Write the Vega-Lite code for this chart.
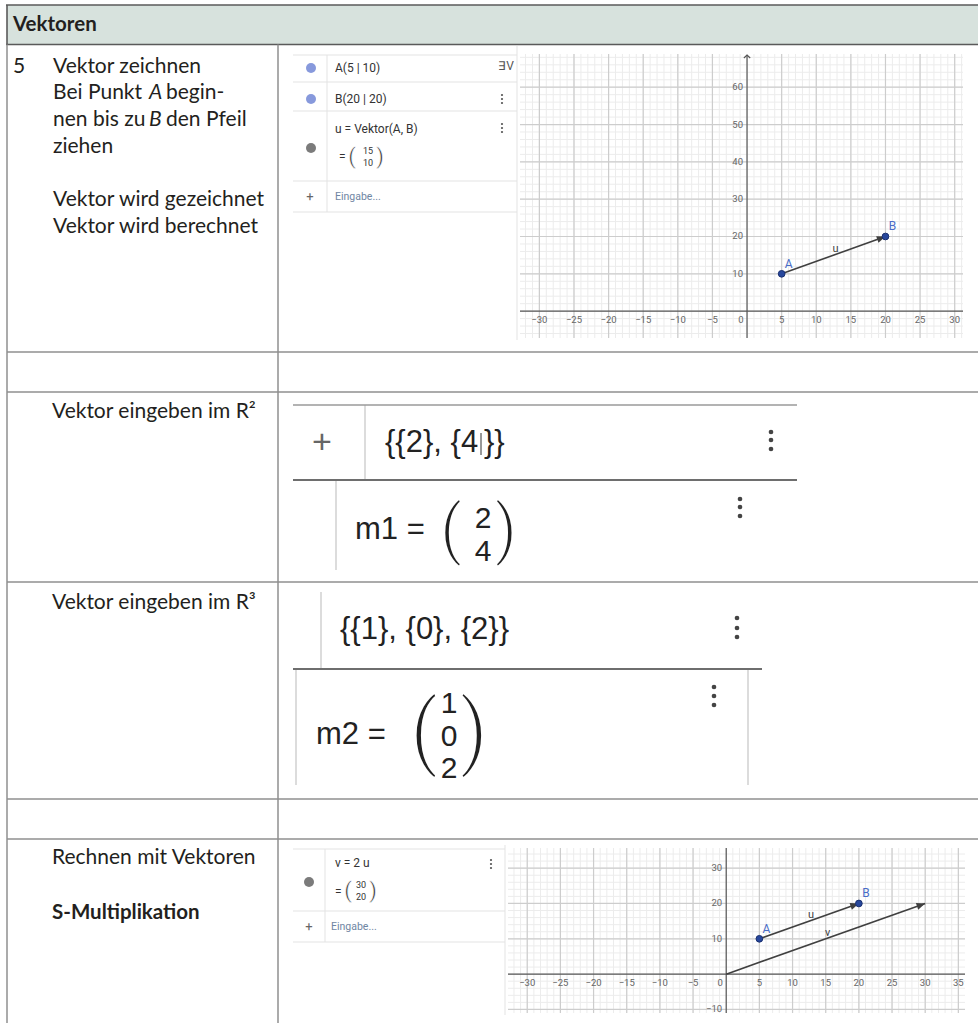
{
"$schema":"https://vega.github.io/schema/vega-lite/v6.json",
"width":978,"height":1023,"padding":0,"autosize":"none","background":"#ffffff",
"config":{"view":{"stroke":null}},
"resolve":{"scale":{"x":"independent","y":"independent"}},
"datasets":{
"hdr":[{"x":7,"y":5,"x2":978,"y2":44.5}],
"hdrLines":[{"x":6,"y":5,"x2":978,"y2":5},{"x":6,"y":44.5,"x2":978,"y2":44.5},{"x":7,"y":5,"x2":7,"y2":44.5}],
"tblLines":[{"x":7,"y":352,"x2":978,"y2":352},{"x":7,"y":392,"x2":978,"y2":392},{"x":7,"y":582,"x2":978,"y2":582},{"x":7,"y":799,"x2":978,"y2":799},{"x":7,"y":839,"x2":978,"y2":839},{"x":7,"y":44.5,"x2":7,"y2":1023},{"x":278,"y":44.5,"x2":278,"y2":1023}],
"ggThin":[{"x":293,"y":55,"x2":517,"y2":55},{"x":293,"y":82,"x2":517,"y2":82},{"x":293,"y":111,"x2":517,"y2":111},{"x":293,"y":181,"x2":517,"y2":181},{"x":293,"y":212,"x2":517,"y2":212},{"x":327,"y":55,"x2":327,"y2":212},{"x":517,"y":46,"x2":517,"y2":340},{"x":293,"y":849,"x2":505,"y2":849},{"x":293,"y":911,"x2":505,"y2":911},{"x":293,"y":942,"x2":505,"y2":942},{"x":325,"y":849,"x2":325,"y2":942},{"x":505,"y":845,"x2":505,"y2":1015}],
"ggBox":[{"x":365,"y":405,"x2":365,"y2":480},{"x":336,"y":481,"x2":336,"y2":570},{"x":321,"y":592,"x2":321,"y2":669},{"x":296,"y":670,"x2":296,"y2":785},{"x":748,"y":670,"x2":748,"y2":785}],
"ggLineMid":[{"x":293,"y":405,"x2":797,"y2":405}],
"ggLineDark":[{"x":293,"y":480,"x2":797,"y2":480},{"x":293,"y":669,"x2":762,"y2":669}],
"cursor":[{"x":481,"y":433,"x2":481,"y2":455}],
"txtBody":[{"x":13,"y":67,"t":"5"},{"x":53,"y":67,"t":"Vektor zeichnen"},{"x":53,"y":93,"t":"Bei Punkt"},{"x":166,"y":93,"t":"begin-"},{"x":53,"y":120,"t":"nen bis zu"},{"x":166,"y":120,"t":"den Pfeil"},{"x":53,"y":147,"t":"ziehen"},{"x":53,"y":200,"t":"Vektor wird gezeichnet"},{"x":53,"y":227,"t":"Vektor wird berechnet"},{"x":52,"y":412,"t":"Vektor eingeben im R²"},{"x":52,"y":603,"t":"Vektor eingeben im R³"},{"x":52,"y":858,"t":"Rechnen mit Vektoren"}],
"txtItalic":[{"x":149,"y":93,"t":"A"},{"x":149,"y":120,"t":"B"}],
"txtBold":[{"x":13,"y":25,"t":"Vektoren"},{"x":52,"y":913,"t":"S-Multiplikation"}],
"ggSm":[{"x":335,"y":68,"t":"A(5 | 10)"},{"x":335,"y":99,"t":"B(20 | 20)"},{"x":335,"y":129,"t":"u = Vektor(A, B)"},{"x":339,"y":157,"t":"="},{"x":335,"y":863,"t":"v = 2 u"},{"x":335,"y":892,"t":"="}],
"ggTiny":[{"x":368,"y":151,"t":"15"},{"x":368,"y":163,"t":"10"},{"x":361,"y":885,"t":"30"},{"x":361,"y":897,"t":"20"}],
"ggParS":[{"x":352,"y":157,"t":"("},{"x":380,"y":157,"t":")"},{"x":348,"y":891,"t":"("},{"x":373,"y":891,"t":")"}],
"ggInp":[{"x":335,"y":197,"t":"Eingabe..."},{"x":331,"y":927,"t":"Eingabe..."}],
"ggPlusS":[{"x":310,"y":197,"t":"+"},{"x":309,"y":927,"t":"+"}],
"ggIcon":[{"x":506,"y":66,"t":"∃V"}],
"ggBig":[{"x":385,"y":443,"t":"{{2}, {4"},{"x":484,"y":443,"t":"}}"},{"x":340,"y":630,"t":"{{1}, {0}, {2}}"},{"x":355,"y":530,"t":"m1 ="},{"x":316,"y":735,"t":"m2 ="}],
"ggBigC":[{"x":483,"y":519,"t":"2"},{"x":483,"y":552,"t":"4"},{"x":449,"y":704,"t":"1"},{"x":449,"y":737,"t":"0"},{"x":449,"y":769,"t":"2"}],
"ggPlusB":[{"x":322,"y":443,"t":"+"}],
"ggPar1":[{"x":451,"y":532,"t":"("},{"x":506,"y":532,"t":")"}],
"ggPar2":[{"x":424,"y":734,"t":"("},{"x":474,"y":734,"t":")"}],
"menuBig":[{"x":771,"y":432},{"x":771,"y":440},{"x":771,"y":449},{"x":740,"y":499},{"x":740,"y":507},{"x":740,"y":516},{"x":737,"y":618},{"x":737,"y":628},{"x":737,"y":637},{"x":714,"y":687},{"x":714,"y":696},{"x":714,"y":705}],
"menuSm":[{"x":502,"y":95},{"x":502,"y":99},{"x":502,"y":103},{"x":502,"y":124},{"x":502,"y":128},{"x":502,"y":132},{"x":491,"y":860},{"x":491,"y":864},{"x":491,"y":868}],
"dotBlue":[{"x":311,"y":68},{"x":311,"y":99}],
"dotGray":[{"x":311,"y":148},{"x":309,"y":882}],
"ints":[{"v":-32},{"v":-31},{"v":-30},{"v":-29},{"v":-28},{"v":-27},{"v":-26},{"v":-25},{"v":-24},{"v":-23},{"v":-22},{"v":-21},{"v":-20},{"v":-19},{"v":-18},{"v":-17},{"v":-16},{"v":-15},{"v":-14},{"v":-13},{"v":-12},{"v":-11},{"v":-10},{"v":-9},{"v":-8},{"v":-7},{"v":-6},{"v":-5},{"v":-4},{"v":-3},{"v":-2},{"v":-1},{"v":0},{"v":1},{"v":2},{"v":3},{"v":4},{"v":5},{"v":6},{"v":7},{"v":8},{"v":9},{"v":10},{"v":11},{"v":12},{"v":13},{"v":14},{"v":15},{"v":16},{"v":17},{"v":18},{"v":19},{"v":20},{"v":21},{"v":22},{"v":23},{"v":24},{"v":25},{"v":26},{"v":27},{"v":28},{"v":29},{"v":30},{"v":31},{"v":32},{"v":33},{"v":34},{"v":35}],
"evens":[{"v":-10},{"v":-8},{"v":-6},{"v":-4},{"v":-2},{"v":0},{"v":2},{"v":4},{"v":6},{"v":8},{"v":10},{"v":12},{"v":14},{"v":16},{"v":18},{"v":20},{"v":22},{"v":24},{"v":26},{"v":28},{"v":30},{"v":32},{"v":34},{"v":36},{"v":38},{"v":40},{"v":42},{"v":44},{"v":46},{"v":48},{"v":50},{"v":52},{"v":54},{"v":56},{"v":58},{"v":60},{"v":62},{"v":64},{"v":66},{"v":68}],
"majX":[{"v":-30},{"v":-25},{"v":-20},{"v":-15},{"v":-10},{"v":-5},{"v":5},{"v":10},{"v":15},{"v":20},{"v":25},{"v":30},{"v":35}],
"majY":[{"v":-10},{"v":10},{"v":20},{"v":30},{"v":40},{"v":50},{"v":60}],
"xLab":[{"v":-30,"t":"−30"},{"v":-25,"t":"−25"},{"v":-20,"t":"−20"},{"v":-15,"t":"−15"},{"v":-10,"t":"−10"},{"v":-5,"t":"−5"},{"v":5,"t":"5"},{"v":10,"t":"10"},{"v":15,"t":"15"},{"v":20,"t":"20"},{"v":25,"t":"25"},{"v":30,"t":"30"},{"v":35,"t":"35"}],
"yLab":[{"v":-10,"t":"−10"},{"v":10,"t":"10"},{"v":20,"t":"20"},{"v":30,"t":"30"},{"v":40,"t":"40"},{"v":50,"t":"50"},{"v":60,"t":"60"}],
"origin":[{"v":0,"t":"0"}],
"vec1":[{"x":5,"y":10,"x2":20,"y2":20}],
"vec2":[{"x":5,"y":10,"x2":20,"y2":20},{"x":0,"y":0,"x2":30,"y2":20}],
"pts":[{"x":5,"y":10,"t":"A"},{"x":20,"y":20,"t":"B"}],
"vlab1":[{"x":12.5,"y":15,"t":"u"}],
"vlab2":[{"x":12.5,"y":15,"t":"u"},{"x":15,"y":10,"t":"v"}]
},
"layer":[
{
"encoding":{
"x":{"field":"x","type":"quantitative","scale":{"domain":[0,978],"nice":false,"zero":false},"axis":null},
"y":{"field":"y","type":"quantitative","scale":{"domain":[0,1023],"nice":false,"zero":false,"reverse":true},"axis":null}
},
"layer":[
{"data":{"name":"hdr"},"mark":{"type":"rect","fill":"#d7e2dd"},"encoding":{"x2":{"field":"x2"},"y2":{"field":"y2"}}},
{"data":{"name":"hdrLines"},"mark":{"type":"rule","stroke":"#5a5a5a","strokeWidth":1.6},"encoding":{"x2":{"field":"x2"},"y2":{"field":"y2"}}},
{"data":{"name":"tblLines"},"mark":{"type":"rule","stroke":"#8f8f8f","strokeWidth":1.5},"encoding":{"x2":{"field":"x2"},"y2":{"field":"y2"}}},
{"data":{"name":"ggThin"},"mark":{"type":"rule","stroke":"#e3e3e3","strokeWidth":1},"encoding":{"x2":{"field":"x2"},"y2":{"field":"y2"}}},
{"data":{"name":"ggBox"},"mark":{"type":"rule","stroke":"#d0d0d0","strokeWidth":1.5},"encoding":{"x2":{"field":"x2"},"y2":{"field":"y2"}}},
{"data":{"name":"ggLineMid"},"mark":{"type":"rule","stroke":"#9a9a9a","strokeWidth":1.5},"encoding":{"x2":{"field":"x2"},"y2":{"field":"y2"}}},
{"data":{"name":"ggLineDark"},"mark":{"type":"rule","stroke":"#6e6e6e","strokeWidth":2},"encoding":{"x2":{"field":"x2"},"y2":{"field":"y2"}}},
{"data":{"name":"cursor"},"mark":{"type":"rule","stroke":"#333333","strokeWidth":1},"encoding":{"x2":{"field":"x2"},"y2":{"field":"y2"}}},
{"data":{"name":"txtBody"},"mark":{"type":"text","font":"Lato","fontSize":21,"align":"left","baseline":"middle","color":"#231f20"},"encoding":{"text":{"field":"t"}}},
{"data":{"name":"txtItalic"},"mark":{"type":"text","font":"Lato","fontSize":21,"fontStyle":"italic","align":"left","baseline":"middle","color":"#231f20"},"encoding":{"text":{"field":"t"}}},
{"data":{"name":"txtBold"},"mark":{"type":"text","font":"Lato","fontSize":20.5,"fontWeight":"bold","align":"left","baseline":"middle","color":"#231f20"},"encoding":{"text":{"field":"t"}}},
{"data":{"name":"ggSm"},"mark":{"type":"text","font":"Roboto","fontSize":12,"align":"left","baseline":"middle","color":"#333333"},"encoding":{"text":{"field":"t"}}},
{"data":{"name":"ggTiny"},"mark":{"type":"text","font":"Roboto","fontSize":9,"align":"center","baseline":"middle","color":"#333333"},"encoding":{"text":{"field":"t"}}},
{"data":{"name":"ggParS"},"mark":{"type":"text","font":"Roboto","fontSize":22,"align":"center","baseline":"middle","color":"#333333","stroke":"#ffffff","strokeWidth":0.6},"encoding":{"text":{"field":"t"}}},
{"data":{"name":"ggInp"},"mark":{"type":"text","font":"Roboto","fontSize":10.5,"align":"left","baseline":"middle","color":"#6f86a3"},"encoding":{"text":{"field":"t"}}},
{"data":{"name":"ggPlusS"},"mark":{"type":"text","font":"Roboto","fontSize":13,"align":"center","baseline":"middle","color":"#666666"},"encoding":{"text":{"field":"t"}}},
{"data":{"name":"ggIcon"},"mark":{"type":"text","font":"Roboto","fontSize":12,"align":"center","baseline":"middle","color":"#555555"},"encoding":{"text":{"field":"t"}}},
{"data":{"name":"ggBig"},"mark":{"type":"text","font":"Liberation Sans","fontSize":31,"align":"left","baseline":"middle","color":"#222222"},"encoding":{"text":{"field":"t"}}},
{"data":{"name":"ggBigC"},"mark":{"type":"text","font":"Liberation Sans","fontSize":30,"align":"center","baseline":"middle","color":"#222222"},"encoding":{"text":{"field":"t"}}},
{"data":{"name":"ggPlusB"},"mark":{"type":"text","font":"Liberation Sans","fontSize":34,"align":"center","baseline":"middle","color":"#666666"},"encoding":{"text":{"field":"t"}}},
{"data":{"name":"ggPar1"},"mark":{"type":"text","font":"Roboto","fontSize":66,"align":"center","baseline":"middle","color":"#222222","stroke":"#ffffff","strokeWidth":2.4},"encoding":{"text":{"field":"t"}}},
{"data":{"name":"ggPar2"},"mark":{"type":"text","font":"Roboto","fontSize":86,"align":"center","baseline":"middle","color":"#222222","stroke":"#ffffff","strokeWidth":3.4},"encoding":{"text":{"field":"t"}}},
{"data":{"name":"menuBig"},"mark":{"type":"point","filled":true,"size":22,"color":"#444444","opacity":1}},
{"data":{"name":"menuSm"},"mark":{"type":"point","filled":true,"size":5,"color":"#555555","opacity":1}},
{"data":{"name":"dotBlue"},"mark":{"type":"point","filled":true,"size":100,"color":"#8799dc","opacity":1}},
{"data":{"name":"dotGray"},"mark":{"type":"point","filled":true,"size":100,"color":"#7b7b7b","opacity":1}}
]
},
{
"layer":[
{"data":{"name":"ints"},"transform":[{"filter":{"field":"v","range":[-32,31]}}],"mark":{"type":"rule","stroke":"#ececec","strokeWidth":1},"encoding":{"x":{"field":"v","type":"quantitative","scale":{"domain":[-32.8,31.2],"range":[520,963],"nice":false,"zero":false},"axis":null},"y":{"datum":-7.2,"type":"quantitative","scale":{"domain":[-7.2,68.9],"range":[338,54],"nice":false,"zero":false},"axis":null},"y2":{"datum":68.9}}},
{"data":{"name":"evens"},"transform":[{"filter":{"field":"v","range":[-6,68]}}],"mark":{"type":"rule","stroke":"#ececec","strokeWidth":1},"encoding":{"y":{"field":"v","type":"quantitative","scale":{"domain":[-7.2,68.9],"range":[338,54],"nice":false,"zero":false},"axis":null},"x":{"datum":-32.8,"type":"quantitative","scale":{"domain":[-32.8,31.2],"range":[520,963],"nice":false,"zero":false},"axis":null},"x2":{"datum":31.2}}},
{"data":{"name":"majX"},"transform":[{"filter":{"field":"v","range":[-32,31]}}],"mark":{"type":"rule","stroke":"#cdcdcd","strokeWidth":1.2},"encoding":{"x":{"field":"v","type":"quantitative","scale":{"domain":[-32.8,31.2],"range":[520,963],"nice":false,"zero":false},"axis":null},"y":{"datum":-7.2,"type":"quantitative","scale":{"domain":[-7.2,68.9],"range":[338,54],"nice":false,"zero":false},"axis":null},"y2":{"datum":68.9}}},
{"data":{"name":"majY"},"transform":[{"filter":{"field":"v","range":[-6,68]}}],"mark":{"type":"rule","stroke":"#cdcdcd","strokeWidth":1.2},"encoding":{"y":{"field":"v","type":"quantitative","scale":{"domain":[-7.2,68.9],"range":[338,54],"nice":false,"zero":false},"axis":null},"x":{"datum":-32.8,"type":"quantitative","scale":{"domain":[-32.8,31.2],"range":[520,963],"nice":false,"zero":false},"axis":null},"x2":{"datum":31.2}}},
{"data":{"name":"origin"},"mark":{"type":"rule","stroke":"#555555","strokeWidth":1.2},"encoding":{"y":{"field":"v","type":"quantitative","scale":{"domain":[-7.2,68.9],"range":[338,54],"nice":false,"zero":false},"axis":null},"x":{"datum":-32.8,"type":"quantitative","scale":{"domain":[-32.8,31.2],"range":[520,963],"nice":false,"zero":false},"axis":null},"x2":{"datum":31.2}}},
{"data":{"name":"origin"},"mark":{"type":"rule","stroke":"#555555","strokeWidth":1.2},"encoding":{"x":{"field":"v","type":"quantitative","scale":{"domain":[-32.8,31.2],"range":[520,963],"nice":false,"zero":false},"axis":null},"y":{"datum":-7.2,"type":"quantitative","scale":{"domain":[-7.2,68.9],"range":[338,54],"nice":false,"zero":false},"axis":null},"y2":{"datum":68.6}}},
{"data":{"name":"origin"},"mark":{"type":"point","shape":"M-1,0.9L0,0L1,0.9","filled":false,"size":40,"stroke":"#555555","strokeWidth":1.2,"opacity":1},"encoding":{"x":{"field":"v","type":"quantitative","scale":{"domain":[-32.8,31.2],"range":[520,963],"nice":false,"zero":false},"axis":null},"y":{"datum":68.6,"type":"quantitative","scale":{"domain":[-7.2,68.9],"range":[338,54],"nice":false,"zero":false},"axis":null}}},
{"data":{"name":"xLab"},"transform":[{"filter":{"field":"v","range":[-31,31]}}],"mark":{"type":"text","font":"Roboto","fontSize":9.5,"align":"center","baseline":"middle","dy":9,"color":"#666666"},"encoding":{"text":{"field":"t"},"x":{"field":"v","type":"quantitative","scale":{"domain":[-32.8,31.2],"range":[520,963],"nice":false,"zero":false},"axis":null},"y":{"datum":0,"type":"quantitative","scale":{"domain":[-7.2,68.9],"range":[338,54],"nice":false,"zero":false},"axis":null}}},
{"data":{"name":"yLab"},"transform":[{"filter":{"field":"v","range":[1,68]}}],"mark":{"type":"text","font":"Roboto","fontSize":9.5,"align":"right","baseline":"middle","dx":-4,"color":"#666666"},"encoding":{"text":{"field":"t"},"y":{"field":"v","type":"quantitative","scale":{"domain":[-7.2,68.9],"range":[338,54],"nice":false,"zero":false},"axis":null},"x":{"datum":0,"type":"quantitative","scale":{"domain":[-32.8,31.2],"range":[520,963],"nice":false,"zero":false},"axis":null}}},
{"data":{"name":"origin"},"mark":{"type":"text","font":"Roboto","fontSize":9.5,"align":"center","baseline":"middle","dx":-6,"dy":9,"color":"#666666"},"encoding":{"text":{"field":"t"},"x":{"field":"v","type":"quantitative","scale":{"domain":[-32.8,31.2],"range":[520,963],"nice":false,"zero":false},"axis":null},"y":{"field":"v","type":"quantitative","scale":{"domain":[-7.2,68.9],"range":[338,54],"nice":false,"zero":false},"axis":null}}},
{"data":{"name":"vec1"},"mark":{"type":"rule","stroke":"#404040","strokeWidth":1.6},"encoding":{"x":{"field":"x","type":"quantitative","scale":{"domain":[-32.8,31.2],"range":[520,963],"nice":false,"zero":false},"axis":null},"y":{"field":"y","type":"quantitative","scale":{"domain":[-7.2,68.9],"range":[338,54],"nice":false,"zero":false},"axis":null},"x2":{"field":"x2"},"y2":{"field":"y2"}}},
{"data":{"name":"vec1"},"mark":{"type":"point","shape":"M0,0L-1,-0.4L-1,0.4Z","filled":true,"size":300,"angle":340.3,"color":"#404040","opacity":1},"encoding":{"x":{"field":"x2","type":"quantitative","scale":{"domain":[-32.8,31.2],"range":[520,963],"nice":false,"zero":false},"axis":null},"y":{"field":"y2","type":"quantitative","scale":{"domain":[-7.2,68.9],"range":[338,54],"nice":false,"zero":false},"axis":null}}},
{"data":{"name":"pts"},"mark":{"type":"point","filled":true,"size":45,"fill":"#27479c","stroke":"#1a3070","strokeWidth":1,"opacity":1},"encoding":{"x":{"field":"x","type":"quantitative","scale":{"domain":[-32.8,31.2],"range":[520,963],"nice":false,"zero":false},"axis":null},"y":{"field":"y","type":"quantitative","scale":{"domain":[-7.2,68.9],"range":[338,54],"nice":false,"zero":false},"axis":null}}},
{"data":{"name":"pts"},"mark":{"type":"text","font":"Roboto","fontSize":12,"align":"center","baseline":"middle","dx":7,"dy":-10,"color":"#4a6cc7"},"encoding":{"text":{"field":"t"},"x":{"field":"x","type":"quantitative","scale":{"domain":[-32.8,31.2],"range":[520,963],"nice":false,"zero":false},"axis":null},"y":{"field":"y","type":"quantitative","scale":{"domain":[-7.2,68.9],"range":[338,54],"nice":false,"zero":false},"axis":null}}},
{"data":{"name":"vlab1"},"mark":{"type":"text","font":"Roboto","fontSize":11,"align":"center","baseline":"middle","dx":2,"dy":-6,"color":"#444444"},"encoding":{"text":{"field":"t"},"x":{"field":"x","type":"quantitative","scale":{"domain":[-32.8,31.2],"range":[520,963],"nice":false,"zero":false},"axis":null},"y":{"field":"y","type":"quantitative","scale":{"domain":[-7.2,68.9],"range":[338,54],"nice":false,"zero":false},"axis":null}}}
]
},
{
"layer":[
{"data":{"name":"ints"},"transform":[{"filter":{"field":"v","range":[-32,35]}}],"mark":{"type":"rule","stroke":"#ececec","strokeWidth":1},"encoding":{"x":{"field":"v","type":"quantitative","scale":{"domain":[-32.9,36],"range":[508,965],"nice":false,"zero":false},"axis":null},"y":{"datum":-11,"type":"quantitative","scale":{"domain":[-11,35.7],"range":[1013,848],"nice":false,"zero":false},"axis":null},"y2":{"datum":35.7}}},
{"data":{"name":"evens"},"transform":[{"filter":{"field":"v","range":[-10,34]}}],"mark":{"type":"rule","stroke":"#ececec","strokeWidth":1},"encoding":{"y":{"field":"v","type":"quantitative","scale":{"domain":[-11,35.7],"range":[1013,848],"nice":false,"zero":false},"axis":null},"x":{"datum":-32.9,"type":"quantitative","scale":{"domain":[-32.9,36],"range":[508,965],"nice":false,"zero":false},"axis":null},"x2":{"datum":36}}},
{"data":{"name":"majX"},"mark":{"type":"rule","stroke":"#cdcdcd","strokeWidth":1.2},"encoding":{"x":{"field":"v","type":"quantitative","scale":{"domain":[-32.9,36],"range":[508,965],"nice":false,"zero":false},"axis":null},"y":{"datum":-11,"type":"quantitative","scale":{"domain":[-11,35.7],"range":[1013,848],"nice":false,"zero":false},"axis":null},"y2":{"datum":35.7}}},
{"data":{"name":"majY"},"transform":[{"filter":{"field":"v","range":[-10,34]}}],"mark":{"type":"rule","stroke":"#cdcdcd","strokeWidth":1.2},"encoding":{"y":{"field":"v","type":"quantitative","scale":{"domain":[-11,35.7],"range":[1013,848],"nice":false,"zero":false},"axis":null},"x":{"datum":-32.9,"type":"quantitative","scale":{"domain":[-32.9,36],"range":[508,965],"nice":false,"zero":false},"axis":null},"x2":{"datum":36}}},
{"data":{"name":"origin"},"mark":{"type":"rule","stroke":"#555555","strokeWidth":1.2},"encoding":{"y":{"field":"v","type":"quantitative","scale":{"domain":[-11,35.7],"range":[1013,848],"nice":false,"zero":false},"axis":null},"x":{"datum":-32.9,"type":"quantitative","scale":{"domain":[-32.9,36],"range":[508,965],"nice":false,"zero":false},"axis":null},"x2":{"datum":36}}},
{"data":{"name":"origin"},"mark":{"type":"rule","stroke":"#555555","strokeWidth":1.2},"encoding":{"x":{"field":"v","type":"quantitative","scale":{"domain":[-32.9,36],"range":[508,965],"nice":false,"zero":false},"axis":null},"y":{"datum":-11,"type":"quantitative","scale":{"domain":[-11,35.7],"range":[1013,848],"nice":false,"zero":false},"axis":null},"y2":{"datum":35.7}}},
{"data":{"name":"xLab"},"mark":{"type":"text","font":"Roboto","fontSize":9.5,"align":"center","baseline":"middle","dy":9,"color":"#666666"},"encoding":{"text":{"field":"t"},"x":{"field":"v","type":"quantitative","scale":{"domain":[-32.9,36],"range":[508,965],"nice":false,"zero":false},"axis":null},"y":{"datum":0,"type":"quantitative","scale":{"domain":[-11,35.7],"range":[1013,848],"nice":false,"zero":false},"axis":null}}},
{"data":{"name":"yLab"},"transform":[{"filter":{"field":"v","range":[-10,34]}}],"mark":{"type":"text","font":"Roboto","fontSize":9.5,"align":"right","baseline":"middle","dx":-4,"color":"#666666"},"encoding":{"text":{"field":"t"},"y":{"field":"v","type":"quantitative","scale":{"domain":[-11,35.7],"range":[1013,848],"nice":false,"zero":false},"axis":null},"x":{"datum":0,"type":"quantitative","scale":{"domain":[-32.9,36],"range":[508,965],"nice":false,"zero":false},"axis":null}}},
{"data":{"name":"origin"},"mark":{"type":"text","font":"Roboto","fontSize":9.5,"align":"center","baseline":"middle","dx":-6,"dy":9,"color":"#666666"},"encoding":{"text":{"field":"t"},"x":{"field":"v","type":"quantitative","scale":{"domain":[-32.9,36],"range":[508,965],"nice":false,"zero":false},"axis":null},"y":{"field":"v","type":"quantitative","scale":{"domain":[-11,35.7],"range":[1013,848],"nice":false,"zero":false},"axis":null}}},
{"data":{"name":"vec2"},"mark":{"type":"rule","stroke":"#404040","strokeWidth":1.6},"encoding":{"x":{"field":"x","type":"quantitative","scale":{"domain":[-32.9,36],"range":[508,965],"nice":false,"zero":false},"axis":null},"y":{"field":"y","type":"quantitative","scale":{"domain":[-11,35.7],"range":[1013,848],"nice":false,"zero":false},"axis":null},"x2":{"field":"x2"},"y2":{"field":"y2"}}},
{"data":{"name":"vec2"},"mark":{"type":"point","shape":"M0,0L-1,-0.4L-1,0.4Z","filled":true,"size":300,"angle":340.5,"color":"#404040","opacity":1},"encoding":{"x":{"field":"x2","type":"quantitative","scale":{"domain":[-32.9,36],"range":[508,965],"nice":false,"zero":false},"axis":null},"y":{"field":"y2","type":"quantitative","scale":{"domain":[-11,35.7],"range":[1013,848],"nice":false,"zero":false},"axis":null}}},
{"data":{"name":"pts"},"mark":{"type":"point","filled":true,"size":45,"fill":"#27479c","stroke":"#1a3070","strokeWidth":1,"opacity":1},"encoding":{"x":{"field":"x","type":"quantitative","scale":{"domain":[-32.9,36],"range":[508,965],"nice":false,"zero":false},"axis":null},"y":{"field":"y","type":"quantitative","scale":{"domain":[-11,35.7],"range":[1013,848],"nice":false,"zero":false},"axis":null}}},
{"data":{"name":"pts"},"mark":{"type":"text","font":"Roboto","fontSize":12,"align":"center","baseline":"middle","dx":7,"dy":-10,"color":"#4a6cc7"},"encoding":{"text":{"field":"t"},"x":{"field":"x","type":"quantitative","scale":{"domain":[-32.9,36],"range":[508,965],"nice":false,"zero":false},"axis":null},"y":{"field":"y","type":"quantitative","scale":{"domain":[-11,35.7],"range":[1013,848],"nice":false,"zero":false},"axis":null}}},
{"data":{"name":"vlab2"},"mark":{"type":"text","font":"Roboto","fontSize":11,"align":"center","baseline":"middle","dx":2,"dy":-6,"color":"#444444"},"encoding":{"text":{"field":"t"},"x":{"field":"x","type":"quantitative","scale":{"domain":[-32.9,36],"range":[508,965],"nice":false,"zero":false},"axis":null},"y":{"field":"y","type":"quantitative","scale":{"domain":[-11,35.7],"range":[1013,848],"nice":false,"zero":false},"axis":null}}}
]
}
]
}
